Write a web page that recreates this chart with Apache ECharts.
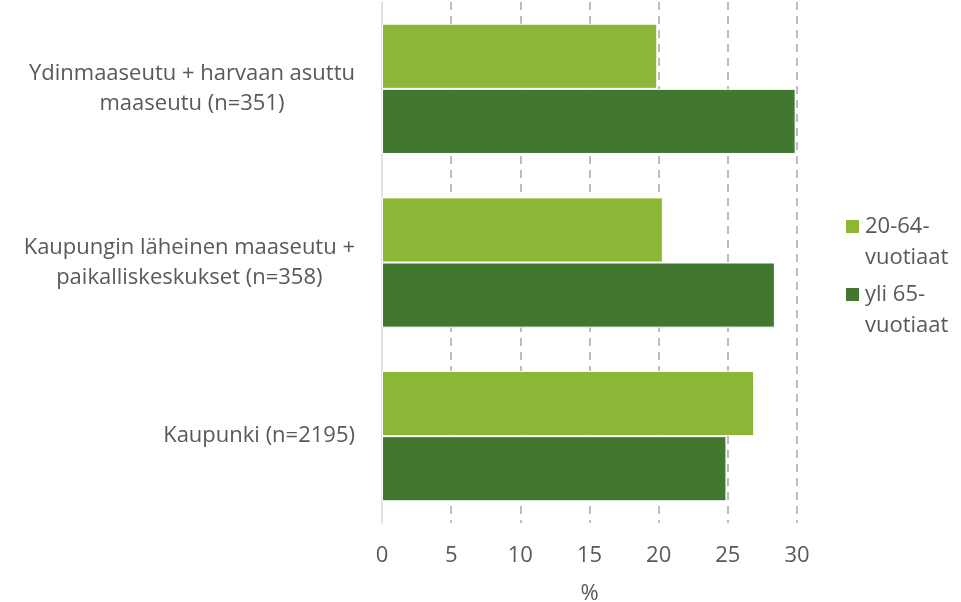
<!DOCTYPE HTML>
<html>
<head>
    <meta charset="UTF-8">
    <title>Ikäryhmät alueittain</title>
    <style>
        body{ margin:0; background-color:#ffffff; }
        #main{ width:961px; height:602px; }
    </style>
    <script src="https://cdn.jsdelivr.net/npm/echarts@6/dist/echarts.min.js"></script>
</head>
<body>
<div id="main"></div>
<script type="text/javascript">
    var categories = [
        'Ydinmaaseutu + harvaan asuttu\nmaaseutu (n=351)',
        'Kaupungin läheinen maaseutu +\npaikalliskeskukset (n=358)',
        'Kaupunki (n=2195)'
    ];
    var seriesNames = ['20-64-\nvuotiaat', 'yli 65-\nvuotiaat'];
    var working = [19.9, 20.3, 26.9];
    var elderly = [29.9, 28.4, 24.9];
    var xTicks = [0, 5, 10, 15, 20, 25, 30];

    var textColor = '#595959';
    var font = 'Open Sans';
    var fs = 22;

    var myChart = echarts.init(document.getElementById('main'));

    var option = {
        backgroundColor: '#ffffff',
        animation: false,
        grid: { left: 382, right: 164, top: 2, bottom: 79, outerBoundsMode: 'none', containLabel: false },
        legend: {
            orient: 'vertical',
            left: 844,
            top: 180,
            padding: 0,
            itemWidth: 15,
            itemHeight: 15,
            itemGap: -25,
            icon: 'rect',
            data: seriesNames,
            // blank first line so the icon sits beside the first text line
            formatter: function (name) { return ' \n' + name; },
            textStyle: {
                color: textColor, fontFamily: font, fontSize: fs, lineHeight: 31
            }
        },
        xAxis: {
            type: 'value',
            min: xTicks[0],
            max: xTicks[xTicks.length - 1],
            interval: 5,
            name: '%',
            nameLocation: 'middle',
            nameGap: 60,
            nameTextStyle: { color: textColor, fontFamily: font, fontSize: fs },
            axisLine: { show: false },
            axisTick: { show: false },
            axisLabel: { color: textColor, fontFamily: font, fontSize: fs, margin: 22 },
            splitLine: {
                show: true,
                showMinLine: false,
                lineStyle: { color: '#a6a6a6', width: 1.5, type: [8, 6] }
            }
        },
        yAxis: {
            type: 'category',
            inverse: true,
            data: categories,
            axisLine: { show: true, lineStyle: { color: '#d9d9d9', width: 1.5 } },
            axisTick: { show: false },
            axisLabel: {
                margin: 27,
                align: 'right',
                lineHeight: 30,
                formatter: function (v) {
                    return v.split('\n').map(function (s) { return '{c|' + s + '}'; }).join('\n');
                },
                rich: {
                    c: { align: 'center', color: textColor, fontFamily: font, fontSize: fs, lineHeight: 30 }
                }
            }
        },
        series: [
            {
                name: seriesNames[0],
                type: 'bar',
                barGap: '0%',
                barCategoryGap: '25%',
                itemStyle: { color: '#8cb635', borderColor: '#ffffff', borderWidth: 1 },
                data: working
            },
            {
                name: seriesNames[1],
                type: 'bar',
                barGap: '0%',
                barCategoryGap: '25%',
                itemStyle: { color: '#41772e', borderColor: '#ffffff', borderWidth: 1 },
                data: elderly
            }
        ]
    };
    myChart.setOption(option);
</script>
</body>
</html>
